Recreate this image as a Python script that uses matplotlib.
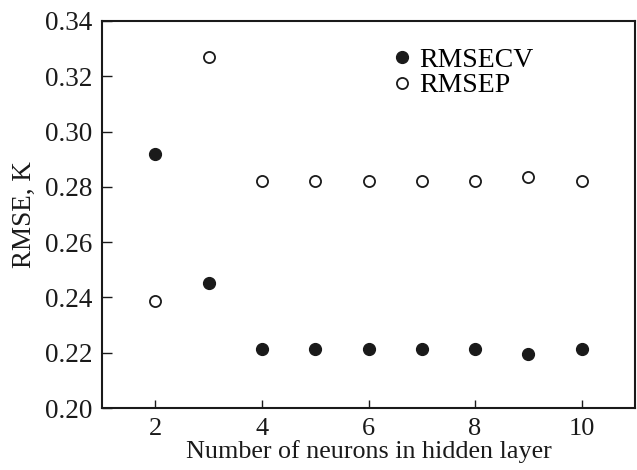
import matplotlib
matplotlib.use("Agg")
import matplotlib.pyplot as plt

neurons = [2, 3, 4, 5, 6, 7, 8, 9, 10]
rmsecv = [0.2919, 0.2451, 0.2212, 0.2212, 0.2212, 0.2212, 0.2212, 0.2196, 0.2212]
rmsep = [0.2388, 0.3270, 0.2820, 0.2820, 0.2820, 0.2820, 0.2820, 0.2834, 0.2820]
xticks = [2, 4, 6, 8, 10]
yticks = [0.20, 0.22, 0.24, 0.26, 0.28, 0.30, 0.32, 0.34]

plt.rcParams['font.family'] = ['Liberation Serif', 'DejaVu Serif']

fig = plt.figure(figsize=(6.37, 4.70), dpi=100)
ax = fig.add_axes([102/637, 1 - 408/470, (635 - 102)/637, (408 - 21)/470])

ax.plot(neurons, rmsecv, linestyle='none', marker='o', markersize=8.5,
        markerfacecolor='#1a1a1a', markeredgecolor='#1a1a1a', label='RMSECV')
ax.plot(neurons, rmsep, linestyle='none', marker='o', markersize=8.0,
        markerfacecolor='white', markeredgecolor='#1a1a1a', markeredgewidth=1.3,
        label='RMSEP')

ax.set_xlim(1, 11)
ax.set_ylim(0.20, 0.34)
ax.set_xticks(xticks)
ax.set_yticks(yticks)
ax.set_yticklabels([f"{v:.2f}" for v in yticks])

for s in ax.spines.values():
    s.set_linewidth(1.5)
    s.set_color('#1a1a1a')

fs = 19.5
ax.tick_params(axis='both', direction='in', width=1.0, colors='#1a1a1a',
               labelsize=fs, labelcolor='#1a1a1a')
ax.tick_params(axis='x', length=6, pad=7, labelsize=19)
ax.tick_params(axis='y', length=7, pad=7)

ax.set_xlabel('Number of neurons in hidden layer', fontsize=18.8, color='#1a1a1a', labelpad=0)
ax.set_ylabel('RMSE, K', fontsize=fs, color='#1a1a1a', labelpad=6)

leg = ax.legend(loc='upper left', bbox_to_anchor=(0.5125, 0.96), frameon=False,
                fontsize=20, handletextpad=0.1, labelspacing=0.0,
                handlelength=1.1, borderaxespad=0)

fig.savefig('out.png', dpi=100)
